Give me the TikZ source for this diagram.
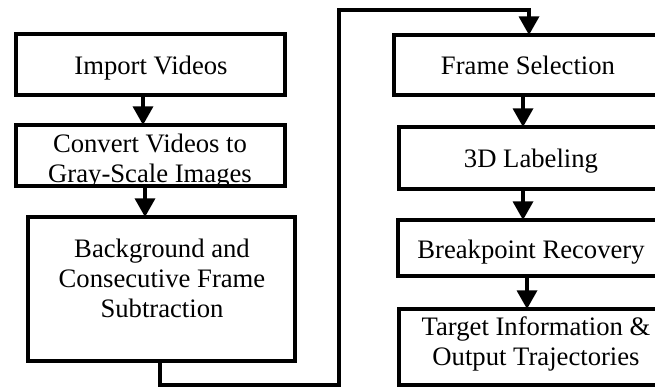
\documentclass[tikz,border=0pt]{standalone}
\usepackage{fontspec}
\setmainfont{Liberation Serif}
\usetikzlibrary{arrows.meta}
\tikzset{
  box/.style={draw=black, line width=3pt, fill=white, inner sep=0pt, outer sep=0pt, rectangle},
  lbl/.style={inner sep=0pt, outer sep=0pt, align=center, anchor=base,
    font=\fontsize{20pt}{22.5pt}\selectfont},
  arr/.style={draw=black, line width=2.6pt,
    -{Triangle[width=15pt,length=14pt]}},
  conn/.style={draw=black, line width=2.6pt}
}
\begin{document}
\begin{tikzpicture}[x=0.75pt, y=-0.75pt]
\useasboundingbox (0,0) rectangle (655,389);
\clip (0,0) rectangle (655,389);
\fill[white] (0,0) rectangle (655,389);

% left column
\node[box, minimum width=201.75pt, minimum height=45.75pt] (imp) at (150.5,64.5) {};
\node[box, minimum width=201.75pt, minimum height=45.75pt] (conv) at (150.5,155.5) {};
\node[box, minimum width=200.25pt, minimum height=108pt] (bg) at (161.5,289) {};

% right column (runs past the right edge)
\node[box, minimum width=229.5pt, minimum height=45pt] (frame) at (547,65) {};
\node[box, minimum width=225.75pt, minimum height=46.5pt] (lab) at (549.5,158) {};
\node[box, minimum width=226.5pt, minimum height=42pt] (brk) at (549,248) {};
\node[box, minimum width=225.75pt, minimum height=57pt] (tgt) at (549.5,347) {};

% labels (base anchor sits on the last line)
\node[lbl] (timp) at (151,74) {Import Videos};
\node[lbl] (tconv) at (150,182) {Convert Videos to\\Gray-Scale Images};
\node[lbl] (tbg) at (162,317) {Background and\\Consecutive Frame\\Subtraction};
\node[lbl] (tframe) at (528,74) {Frame Selection};
\node[lbl] (tlab) at (531,167) {3D Labeling};
\node[lbl] (tbrk) at (531,258) {Breakpoint Recovery};
\node[lbl] (ttgt) at (536,365) {Target Information \&\\Output Trajectories};

% connectors
\coordinate (loopB) at (339,385);
\coordinate (loopT) at (339,10);
\draw[arr] (143,0 |- imp.south) -- (143,0 |- conv.north);
\draw[arr] (145,0 |- conv.south) -- (145,0 |- bg.north);
\draw[arr] (160,0 |- bg.south) |- (loopB) -- (loopT) -| (529,0 |- frame.north);
\draw[arr] (523,0 |- frame.south) -- (523,0 |- lab.north);
\draw[arr] (523,0 |- lab.south) -- (523,0 |- brk.north);
\draw[arr] (527,0 |- brk.south) -- (527,0 |- tgt.north);
\end{tikzpicture}
\end{document}
